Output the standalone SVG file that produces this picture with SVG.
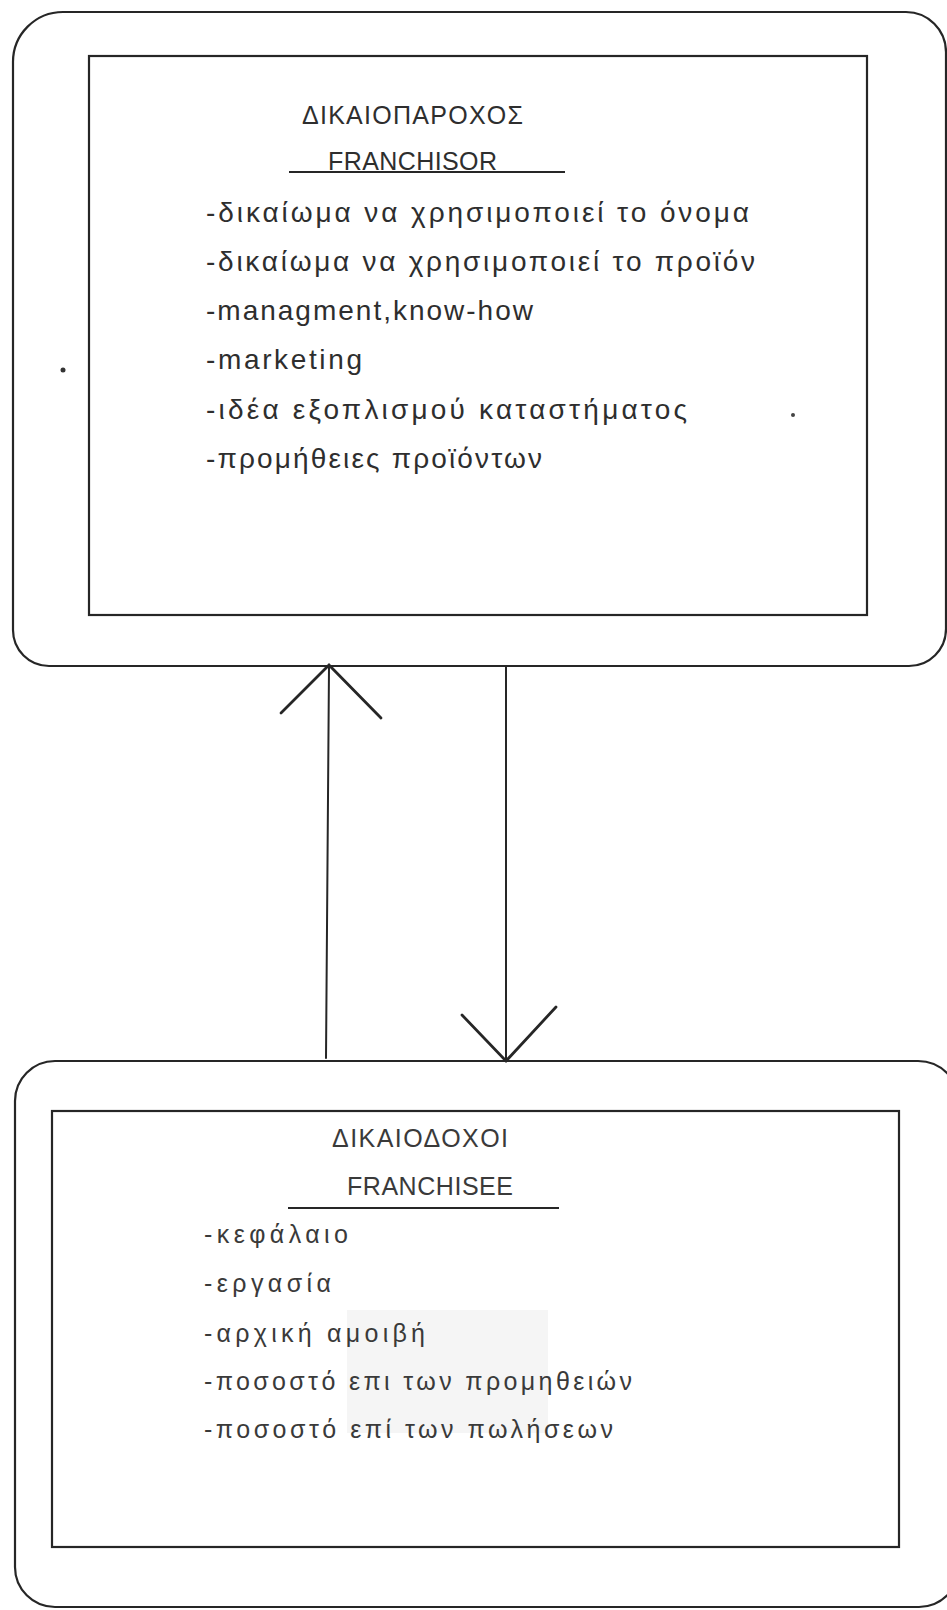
<svg xmlns="http://www.w3.org/2000/svg" width="947" height="1610" viewBox="0 0 947 1610">
<style>
  .frame { fill: none; stroke: #262626; stroke-width: 2.2; stroke-linejoin: round; }
  .inner { fill: none; stroke: #262626; stroke-width: 2.2; }
  .conn { fill: none; stroke: #262626; stroke-width: 2; stroke-linecap: round; }
  .barb { fill: none; stroke: #262626; stroke-width: 2.8; stroke-linecap: round; }
  .t1 { font-family: "Liberation Sans", "DejaVu Sans", sans-serif; font-size: 28px; fill: #2e2e2e; }
  .h1 { font-family: "Liberation Sans", "DejaVu Sans", sans-serif; font-size: 25px; fill: #2e2e2e; }
  .t2 { font-family: "Liberation Sans", "DejaVu Sans", sans-serif; font-size: 25px; fill: #3a3a3a; }
  .ul { stroke: #262626; stroke-width: 2.2; }
</style>
<rect x="0" y="0" width="947" height="1610" fill="#ffffff"/>

<g id="franchisor">
  <path class="frame" d="M63,12 L906,12 A40,40 0 0 1 946,52 L946,629 A37,37 0 0 1 909,666 L49,666 A36,36 0 0 1 13,630 L13,62 A50,50 0 0 1 63,12 Z"/>
  <rect class="inner" x="89" y="56" width="778" height="559"/>
  <text class="h1" x="302" y="124" textLength="221" lengthAdjust="spacing">ΔΙΚΑΙΟΠΑΡΟΧΟΣ</text>
  <text class="h1" x="328" y="170" textLength="169" lengthAdjust="spacing">FRANCHISOR</text>
  <line class="ul" x1="289" y1="172" x2="565" y2="172"/>
  <text class="t1" x="206" y="222" textLength="543" lengthAdjust="spacing">-δικαίωμα να χρησιμοποιεί το όνομα</text>
  <text class="t1" x="206" y="271" textLength="549" lengthAdjust="spacing">-δικαίωμα να χρησιμοποιεί το προϊόν</text>
  <text class="t1" x="206" y="320" textLength="327" lengthAdjust="spacing">-managment,know-how</text>
  <text class="t1" x="206" y="369" textLength="156" lengthAdjust="spacing">-marketing</text>
  <text class="t1" x="206" y="419" textLength="481" lengthAdjust="spacing">-ιδέα εξοπλισμού καταστήματος</text>
  <text class="t1" x="206" y="468" textLength="336" lengthAdjust="spacing">-προμήθειες προϊόντων</text>
  <circle cx="63" cy="370" r="2.5" fill="#333"/>
  <circle cx="793" cy="415" r="2" fill="#444"/>
</g>

<g id="franchisee">
  <path class="frame" d="M55,1061 L918,1061 A41,41 0 0 1 959,1102 L959,1567 A40,40 0 0 1 919,1607 L55,1607 A40,40 0 0 1 15,1567 L15,1101 A40,40 0 0 1 55,1061 Z"/>
  <rect class="inner" x="52" y="1111" width="847" height="436"/>
  <rect x="347" y="1310" width="201" height="123" fill="#f5f5f5"/>
  <text class="t2" x="332" y="1147" textLength="176" lengthAdjust="spacing">ΔΙΚΑΙΟΔΟΧΟΙ</text>
  <text class="t2" x="347" y="1195" textLength="166" lengthAdjust="spacing">FRANCHISEE</text>
  <line class="ul" x1="288" y1="1208" x2="559" y2="1208"/>
  <text class="t2" x="204" y="1243" textLength="144" lengthAdjust="spacing">-κεφάλαιο</text>
  <text class="t2" x="204" y="1292" textLength="127" lengthAdjust="spacing">-εργασία</text>
  <text class="t2" x="204" y="1342" textLength="221" lengthAdjust="spacing">-αρχική αμοιβή</text>
  <text class="t2" x="204" y="1390" textLength="428" lengthAdjust="spacing">-ποσοστό επι των προμηθειών</text>
  <text class="t2" x="204" y="1438" textLength="409" lengthAdjust="spacing">-ποσοστό επί των πωλήσεων</text>
</g>

<g id="connectors">
  <line class="conn" x1="326" y1="1058" x2="329" y2="667"/>
  <polyline class="barb" points="281,713 329,665 381,718"/>
  <line class="conn" x1="506" y1="667" x2="506" y2="1060"/>
  <polyline class="barb" points="462,1015 506,1061 556,1007"/>
</g>
</svg>
